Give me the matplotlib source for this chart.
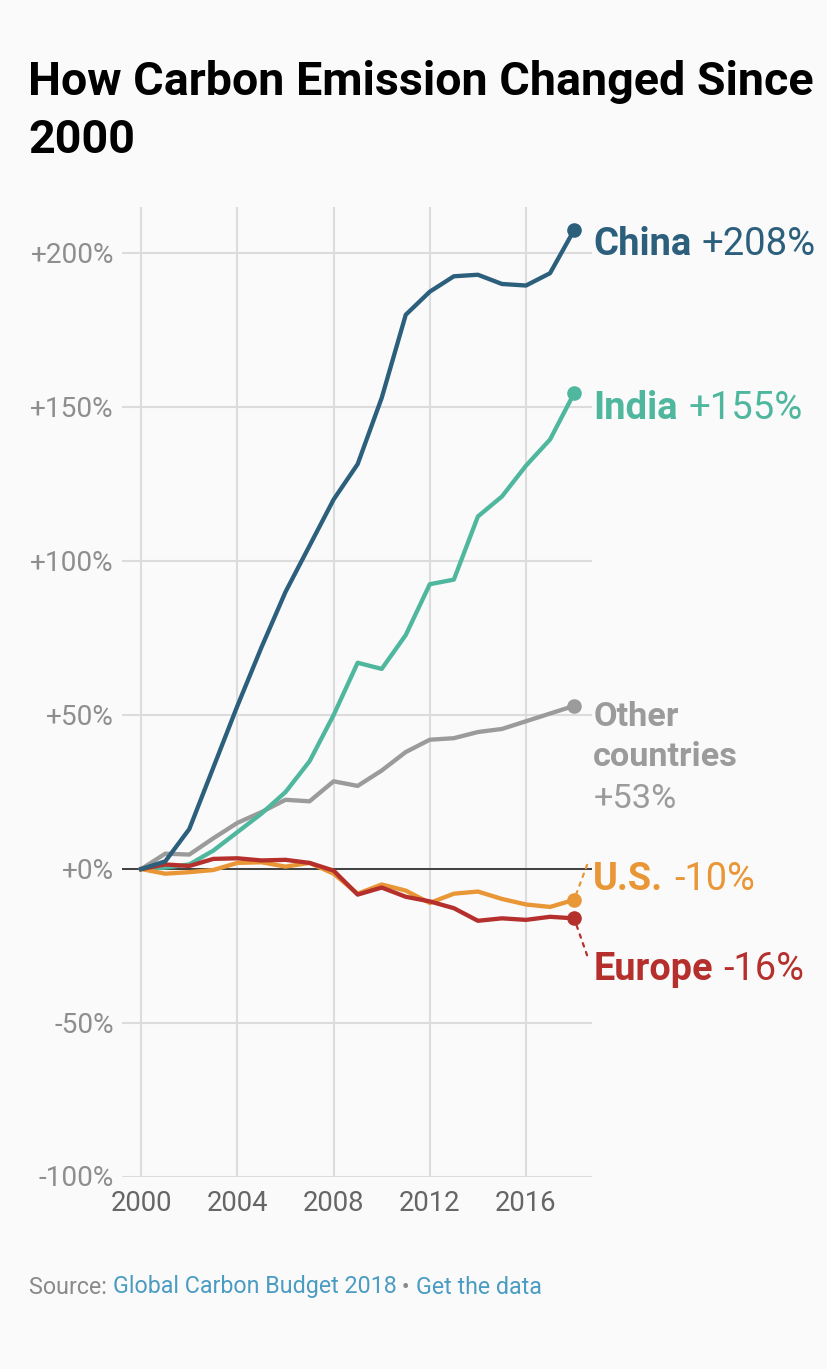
import matplotlib
matplotlib.use('Agg')
import matplotlib.pyplot as plt
from matplotlib.transforms import ScaledTranslation

plt.rcParams['font.family'] = ['Roboto', 'DejaVu Sans']

years = list(range(2000, 2019))
china = [0, 2.5, 13, 33, 53, 72, 90, 105, 120, 131.5, 153, 180, 187.5, 192.5, 193, 190, 189.5, 193.5, 207.5]
india = [0, 0.5, 1.5, 6, 12, 18, 25, 35, 50, 67, 65, 76, 92.5, 94, 114.5, 121, 131, 139.5, 154.5]
other = [0, 5, 4.7, 10, 15, 18.5, 22.5, 22, 28.5, 27, 32, 38, 42, 42.5, 44.5, 45.5, 48, 50.5, 53]
us = [0, -1.5, -1, -0.3, 2, 2.2, 0.8, 2, -1.5, -8, -5, -7, -11, -8, -7.3, -9.7, -11.5, -12.3, -10]
europe = [0, 1.5, 1, 3.3, 3.5, 2.8, 3, 2, -0.5, -8.3, -6, -9, -10.5, -12.7, -16.8, -16, -16.5, -15.5, -16]

x_ticks = [2000, 2004, 2008, 2012, 2016]
y_ticks = [-100, -50, 0, 50, 100, 150, 200]
y_labels = ['-100%', '-50%', '+0%', '+50%', '+100%', '+150%', '+200%']

C_CHINA = '#2b5f7c'
C_INDIA = '#4fb79e'
C_OTHER = '#9b9b9b'
C_US = '#e99636'
C_EUROPE = '#b5302c'
BG = '#fafafa'
W, H = 828, 1369


def put_runs(fig, px, py, runs, size):
    # lay out bold + regular pieces one after the other, px/py in image pixels
    renderer = fig.canvas.get_renderer()
    for s, weight, color in runs:
        t = fig.text(px / W, 1 - py / H, s, fontsize=size, fontweight=weight, color=color,
                     ha='left', va='baseline')
        px = t.get_window_extent(renderer).x1 + size * 0.38


fig = plt.figure(figsize=(W / 100, H / 100), dpi=100, facecolor=BG)
ax = fig.add_axes([121.7 / W, 1 - 1177 / H, (592 - 122) / W, (1177 - 207) / H], facecolor=BG)
ax.set_xlim(2000 - 19.5 / 24.05, 2000 + 450.5 / 24.05)
ax.set_ylim(-100, 215)

for s in ax.spines.values():
    s.set_visible(False)

ax.set_xticks(x_ticks)
ax.set_yticks(y_ticks)
ax.set_yticklabels(y_labels)
ax.grid(True, color='#dcdcdc', lw=1.5)
ax.set_axisbelow(True)
ax.tick_params(axis='both', length=0)
ax.tick_params(axis='x', labelsize=19.8, labelcolor='#666666', pad=9.5)
ax.tick_params(axis='y', labelsize=20.2, labelcolor='#8e8e8e', pad=5.5)
# y labels sit a touch lower than matplotlib centres them
nudge = ScaledTranslation(0, -2 / 100, fig.dpi_scale_trans)
for lab in ax.get_yticklabels():
    lab.set_va('center')
    lab.set_transform(lab.get_transform() + nudge)
ax.axhline(0, color='#333333', lw=1.3, zorder=2)

series = [(other, C_OTHER), (india, C_INDIA), (us, C_US), (europe, C_EUROPE), (china, C_CHINA)]
for vals, col in series:
    ax.plot(years, vals, color=col, lw=3.1, solid_joinstyle='round', zorder=3, clip_on=False)
    ax.plot(years[-1], vals[-1], 'o', color=col, ms=10.5, mew=0, zorder=4, clip_on=False)

# dotted leaders from the end points to the labels
ax.annotate('', xy=(years[-1], us[-1]), xytext=(13, 35), xycoords='data', textcoords='offset pixels',
            arrowprops=dict(arrowstyle='-', color=C_US, lw=1.6, ls=(0, (1.6, 2.6)), shrinkA=0, shrinkB=0))
ax.annotate('', xy=(years[-1], europe[-1]), xytext=(13, -37), xycoords='data', textcoords='offset pixels',
            arrowprops=dict(arrowstyle='-', color=C_EUROPE, lw=1.6, ls=(0, (1.6, 2.6)), shrinkA=0, shrinkB=0))

fig.canvas.draw()
put_runs(fig, 593.3, 255.3, [('China', 'bold', C_CHINA), ('+208%', 'normal', C_CHINA)], 27.5)
put_runs(fig, 593.3, 419.3, [('India', 'bold', C_INDIA), ('+155%', 'normal', C_INDIA)], 27.5)
put_runs(fig, 593.3, 726.5, [('Other', 'bold', C_OTHER)], 24.7)
put_runs(fig, 593.3, 766.5, [('countries', 'bold', C_OTHER)], 24.7)
put_runs(fig, 593.3, 807.5, [('+53%', 'normal', C_OTHER)], 24.7)
put_runs(fig, 593.3, 890.5, [('U.S.', 'bold', C_US), ('-10%', 'normal', C_US)], 27.3)
put_runs(fig, 593.3, 980.5, [('Europe', 'bold', C_EUROPE), ('-16%', 'normal', C_EUROPE)], 27.3)

fig.text(28.5 / W, 1 - 95 / H, 'How Carbon Emission Changed Since', fontsize=33.6, fontweight='bold',
         color='black', ha='left', va='baseline')
fig.text(28.5 / W, 1 - 153 / H, '2000', fontsize=33.6, fontweight='bold',
         color='black', ha='left', va='baseline')

px = 29
renderer = fig.canvas.get_renderer()
for s, col in [('Source: ', '#8a8a8a'), ('Global Carbon Budget 2018', '#4a9cc2'),
               (' • ', '#8a8a8a'), ('Get the data', '#4a9cc2')]:
    # trailing spaces do count in the layout width here
    t = fig.text(px / W, 1 - 1293.5 / H, s, fontsize=16.75, color=col, ha='left', va='baseline')
    px = t.get_window_extent(renderer).x1

fig.savefig('out.png', dpi=100, facecolor=BG)
